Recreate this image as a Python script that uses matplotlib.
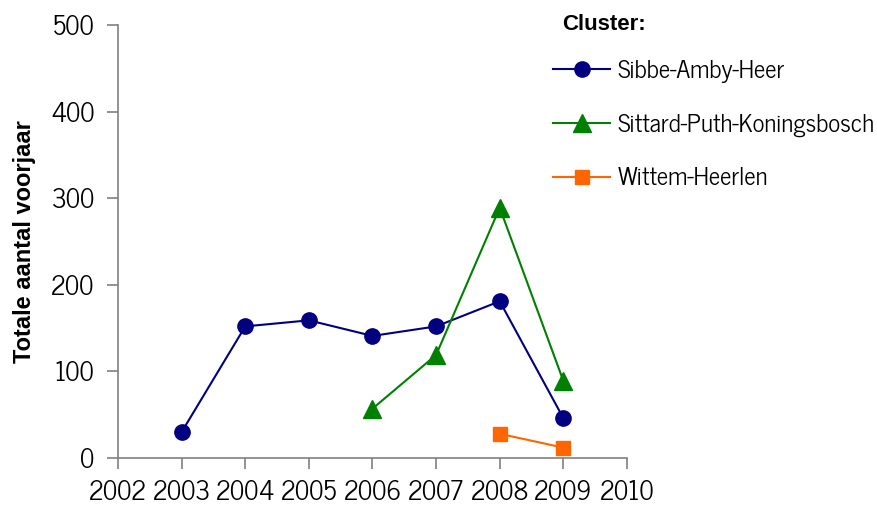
import matplotlib.pyplot as plt

plt.rcParams['font.family'] = ['News Cycle', 'Liberation Sans', 'DejaVu Sans']

# Spring totals per cluster
years_sah = [2003, 2004, 2005, 2006, 2007, 2008, 2009]
sah = [30, 152, 159, 141, 152, 181, 46]

years_spk = [2006, 2007, 2008, 2009]
spk = [57, 119, 289, 89]

years_wh = [2008, 2009]
wh = [28, 12]

fig = plt.figure(figsize=(8.78, 5.05), dpi=100)
ax = fig.add_axes([0.1344, 0.093, 0.5797, 0.8575])

ax.plot(years_sah, sah, '-o', color='#000080', markersize=11, linewidth=1.5, label='Sibbe-Amby-Heer')
ax.plot(years_spk, spk, '-^', color='#008000', markersize=12.5, linewidth=1.5, label='Sittard-Puth-Koningsbosch')
ax.plot(years_wh, wh, '-s', color='#FF6600', markersize=10.5, linewidth=1.5, label='Wittem-Heerlen')

ax.set_xlim(2002, 2010)
ax.set_ylim(0, 500)
ax.set_xticks(range(2002, 2011))
ax.set_yticks(range(0, 501, 100))
ax.tick_params(labelsize=18.5, length=8, width=1.2, color='#808080', direction='out')
ax.tick_params(axis='y', pad=9)
ax.tick_params(axis='x', pad=8)
for s in ['top', 'right']:
    ax.spines[s].set_visible(False)
for s in ['left', 'bottom']:
    ax.spines[s].set_color('#808080')
    ax.spines[s].set_linewidth(1.2)

ax.set_ylabel('Totale aantal voorjaar', fontsize=17, fontweight='bold',
              family=['Liberation Sans', 'DejaVu Sans'], labelpad=10)

fig.text(562 / 878, 1 - 24 / 505, 'Cluster:', fontsize=16, fontweight='bold',
         family=['Liberation Sans', 'DejaVu Sans'], va='center', ha='left')

ax.legend(loc='upper left', bbox_to_anchor=(553 / 878, 1 - 60 / 505), bbox_transform=fig.transFigure,
          frameon=False, fontsize=18, handlelength=2.3, labelspacing=1.22,
          handletextpad=0.28, borderpad=0, borderaxespad=0)

fig.savefig('out.png', dpi=100)
